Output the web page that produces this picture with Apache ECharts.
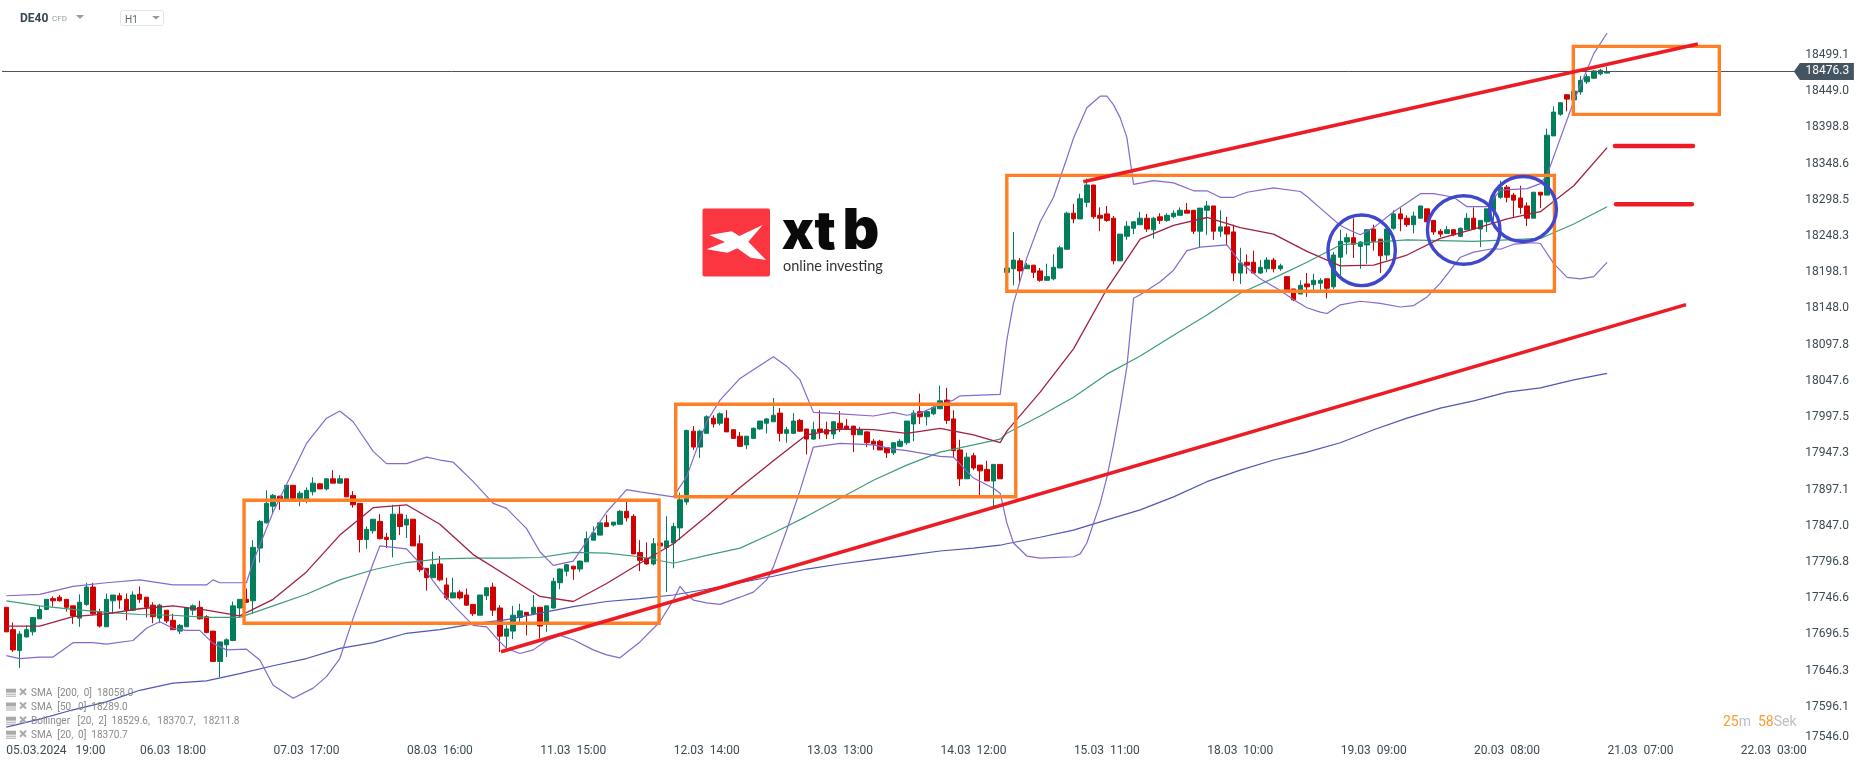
<!DOCTYPE html>
<html><head><meta charset="utf-8"><style>html,body{margin:0;padding:0;background:#fff}#c{width:1866px;height:767px}</style>
<script src="https://cdn.jsdelivr.net/npm/echarts@6/dist/echarts.min.js"></script></head><body><div id="c"></div><script>
const opens=[17734,17703,17674,17693,17700,17718,17731,17746,17748,17745,
17736,17719,17738,17762,17728,17707,17743,17750,17745,17730,
17752,17748,17737,17719,17730,17716,17701,17707,17730,17734,
17721,17701,17659,17682,17688,17733,17745,17743,17816,17851,
17874,17888,17884,17903,17885,17884,17894,17905,17898,17912,
17906,17912,17889,17878,17828,17840,17853,17831,17828,17863,
17848,17856,17822,17788,17775,17794,17765,17747,17755,17751,
17738,17723,17750,17762,17733,17694,17701,17720,17727,17725,
17734,17711,17733,17768,17784,17791,17787,17797,17827,17834,
17851,17848,17849,17867,17860,17810,17802,17794,17823,17817,
17823,17844,17880,17978,17956,17975,17996,17989,17996,17980,
17971,17959,17968,17981,17989,17991,18003,17975,17975,17993,
17981,17967,17981,17980,17974,17989,17985,17985,17973,17977,
17964,17964,17955,17948,17957,17962,17988,18005,17998,18002,
18009,18021,17995,17952,17912,17944,17931,17925,17909,17932,
18198,18203,18214,18203,18208,18200,18187,18189,18204,18230,
18280,18272,18295,18319,18277,18279,18273,18214,18248,18259,
18264,18273,18257,18275,18270,18275,18277,18284,18284,18255,
18284,18290,18255,18261,18254,18197,18212,18212,18197,18203,
18215,18203,18192,18175,18168,18182,18181,18183,18189,18178,
18219,18240,18246,18234,18236,18258,18244,18222,18259,18279,
18273,18264,18273,18286,18270,18255,18252,18257,18248,18257,
18273,18258,18268,18284,18302,18316,18305,18301,18290,18273,
18309,18305,18387,18417,18444,18437,18448,18462,18467,18473,18474];
const closes=[17700,17675,17697,17703,17720,17731,17745,17743,17743,17734,
17722,17741,17762,17725,17708,17745,17751,17744,17730,17751,
17745,17734,17721,17737,17715,17703,17709,17733,17736,17718,
17699,17659,17686,17689,17736,17745,17741,17817,17853,17878,
17889,17884,17903,17885,17892,17896,17906,17898,17912,17906,
17912,17887,17876,17828,17842,17856,17829,17828,17863,17846,
17856,17819,17786,17775,17793,17772,17747,17754,17747,17737,
17725,17751,17761,17730,17694,17704,17723,17729,17723,17734,
17708,17736,17770,17787,17793,17787,17798,17829,17837,17851,
17846,17852,17867,17858,17808,17799,17794,17822,17819,17826,
17846,17883,17979,17956,17978,17998,17988,18002,17977,17968,
17957,17971,17982,17992,17995,18000,17975,17980,17992,17978,
17967,17980,17977,17974,17991,17982,17981,17973,17980,17962,
17960,17952,17948,17962,17964,17992,18003,17998,18005,18011,
18020,17993,17951,17912,17942,17927,17923,17909,17932,17912,
18204,18215,18200,18208,18198,18187,18192,18205,18232,18280,
18272,18300,18319,18275,18273,18270,18214,18251,18262,18268,
18273,18258,18273,18270,18277,18280,18284,18280,18255,18287,
18290,18255,18261,18251,18197,18211,18208,18197,18205,18215,
18203,18207,18174,18160,18180,18178,18187,18187,18176,18222,
18241,18246,18237,18240,18257,18241,18221,18258,18279,18272,
18264,18276,18290,18268,18254,18251,18257,18250,18259,18273,
18258,18270,18286,18305,18316,18302,18298,18288,18273,18309,
18305,18388,18420,18433,18438,18449,18464,18469,18477,18478,18476.3];
const highs=[17734,17713,17701,17709,17720,17736,17745,17749,17751,17745,
17736,17752,17768,17768,17732,17753,17751,17754,17753,17756,
17763,17748,17741,17739,17730,17725,17711,17733,17738,17743,
17723,17701,17686,17691,17742,17745,17760,17827,17855,17896,
17891,17888,17904,17903,17895,17900,17914,17906,17913,17924,
17917,17912,17895,17878,17846,17856,17863,17837,17876,17874,
17862,17856,17834,17788,17811,17805,17775,17775,17758,17760,
17738,17751,17762,17768,17737,17709,17736,17739,17727,17751,
17734,17736,17775,17788,17794,17791,17799,17839,17846,17851,
17862,17852,17869,17880,17863,17827,17824,17830,17823,17860,
17851,17893,17980,17985,17980,18000,18000,18004,18007,17980,
17977,17971,17983,17992,17996,18024,18010,17984,18003,17995,
17981,17991,18007,17991,17992,18006,17995,17985,17984,17978,
17967,17966,17955,17962,17967,17992,18007,18030,18007,18013,
18041,18038,18007,17966,17948,17948,17931,17937,17932,17932,
18204,18254,18218,18211,18208,18204,18210,18223,18235,18282,
18293,18307,18328,18319,18288,18290,18276,18251,18269,18269,
18282,18279,18275,18280,18280,18284,18288,18294,18284,18287,
18297,18290,18284,18275,18264,18232,18223,18228,18215,18219,
18218,18210,18192,18175,18187,18197,18196,18190,18189,18226,
18257,18252,18273,18241,18258,18264,18244,18261,18284,18287,
18277,18282,18290,18286,18270,18258,18262,18258,18260,18280,
18288,18270,18286,18305,18325,18319,18308,18318,18295,18309,
18309,18397,18428,18433,18445,18449,18470,18473,18478,18480,18483];
const lows=[17700,17672,17650,17692,17695,17718,17730,17735,17742,17728,
17711,17707,17736,17723,17706,17707,17725,17732,17716,17729,
17740,17720,17712,17712,17712,17703,17697,17707,17723,17717,
17698,17658,17637,17665,17688,17721,17740,17725,17796,17850,
17864,17869,17884,17884,17874,17878,17889,17898,17896,17906,
17906,17887,17872,17810,17815,17836,17828,17816,17803,17834,
17830,17819,17783,17757,17775,17770,17744,17747,17745,17736,
17722,17723,17744,17722,17672,17677,17690,17712,17695,17723,
17691,17700,17732,17759,17777,17772,17783,17797,17827,17834,
17846,17846,17849,17853,17808,17784,17793,17792,17819,17755,
17788,17827,17876,17952,17941,17975,17983,17986,17977,17968,
17956,17953,17968,17980,17975,17991,17964,17962,17974,17977,
17946,17966,17967,17967,17967,17977,17980,17949,17973,17956,
17952,17952,17941,17945,17957,17959,17964,17988,17986,18000,
18009,17988,17942,17902,17912,17924,17888,17909,17874,17912,
18198,18180,18182,18203,18190,18185,18186,18187,18204,18230,
18266,18272,18288,18272,18255,18268,18209,18214,18243,18251,
18264,18254,18245,18265,18268,18273,18277,18280,18251,18232,
18250,18243,18247,18236,18186,18182,18196,18197,18196,18198,
18198,18200,18174,18158,18168,18164,18174,18174,18162,18175,
18194,18223,18218,18203,18210,18228,18197,18215,18257,18255,
18261,18252,18273,18268,18250,18247,18252,18248,18247,18257,
18257,18233,18254,18270,18300,18295,18275,18279,18262,18273,
18287,18305,18387,18415,18421,18437,18444,18459,18466,18471,18474];

const smaBars=[0,5,10,15,20,25,30,35,40,45,50,55,60,65,70,75,80,85,90,95,100,105,110,115,120,125,130,135,140,145,149,150,155,160,165,170,175,180,185,190,195,200,205,210,215,220,225,230,235,240];
const sma20=[17708,17708,17721,17725,17732,17736,17730,17722,17745,17783,17834,17872,17876,17849,17807,17778,17749,17742,17767,17795,17822,17860,17900,17937,17973,17981,17980,17975,17982,17973,17962,17978,18032,18092,18175,18244,18263,18274,18260,18251,18227,18207,18208,18222,18245,18258,18272,18282,18318,18370.7];
const sma50=[17743,17736,17731,17727,17724,17723,17720,17720,17736,17752,17772,17786,17796,17801,17802,17802,17803,17810,17809,17804,17795,17806,17816,17837,17860,17885,17910,17931,17949,17959,17967,17975,17999,18025,18057,18082,18111,18139,18169,18190,18212,18236,18240,18243,18242,18241,18243,18245,18265,18289];
const sma200=[17568,17579,17592,17603,17619,17629,17632,17642,17653,17663,17677,17685,17698,17703,17711,17717,17726,17735,17742,17746,17751,17759,17768,17777,17787,17794,17800,17806,17812,17816,17820,17822,17831,17841,17855,17869,17887,17908,17924,17938,17949,17962,17980,17996,18010,18020,18032,18038,18049,18058];

const upperBars=[0,5,10,15,20,25,30,31,32,36,37,40,45,48,50,52,55,57,60,63,65,67,70,73,75,78,80,82,85,90,93,95,100,102,105,107,110,112,115,117,119,121,125,130,133,135,137,140,142,143,146,149,150,151,153,155,157,159,160,162,164,165,166,167,168,169,172,175,178,180,182,184,186,190,194,195,197,200,202,203,205,208,212,214,217,219,222,224,228,230,231,235,238,240];
const upperBand=[17750,17752,17763,17768,17772,17765,17765,17772,17768,17768,17797,17866,17961,17996,18006,17991,17950,17933,17933,17942,17938,17935,17908,17878,17871,17843,17811,17792,17798,17866,17897,17894,17887,17915,17991,18021,18051,18063,18081,18068,18049,18004,18002,17999,18004,18000,18003,18015,18021,18027,18028,18029,18104,18155,18218,18268,18302,18356,18384,18426,18442,18442,18430,18412,18385,18320,18325,18322,18311,18311,18302,18302,18309,18315,18310,18303,18287,18263,18254,18250,18260,18282,18307,18307,18302,18289,18289,18312,18314,18321,18333,18435,18501,18529.6];
const lowerBars=[0,2,5,7,10,13,15,19,21,23,25,27,29,31,33,36,38,40,43,46,48,50,52,55,56,60,62,65,67,70,72,74,75,77,79,81,83,85,88,90,92,95,98,100,101,102,103,105,107,110,112,114,115,117,119,121,125,130,133,135,140,142,145,148,149,150,151,153,155,160,161,162,164,165,166,167,168,169,170,173,175,177,179,183,185,188,191,193,195,197,198,200,203,206,209,211,213,215,218,220,223,224,226,229,230,232,234,236,238,240];
const lowerBand=[17667,17663,17665,17665,17685,17685,17683,17688,17705,17714,17705,17702,17702,17684,17675,17676,17661,17626,17608,17622,17638,17663,17719,17795,17819,17815,17795,17758,17737,17709,17707,17686,17677,17670,17675,17688,17695,17689,17675,17668,17664,17686,17714,17744,17763,17752,17744,17740,17738,17748,17755,17772,17790,17841,17896,17956,17961,17959,17953,17951,17943,17942,17913,17899,17892,17851,17823,17805,17802,17804,17808,17823,17878,17914,17959,18010,18067,18162,18167,18185,18201,18228,18233,18236,18212,18189,18173,18160,18149,18143,18141,18153,18158,18155,18150,18152,18164,18183,18219,18226,18231,18230,18237,18239,18238,18210,18191,18189,18192,18211.8];

const yTicks=[17546.0,17596.1,17646.3,17696.5,17746.6,17796.8,17847.0,17897.1,17947.3,17997.5,18047.6,18097.8,18148.0,18198.1,18248.3,18298.5,18348.6,18398.8,18449.0,18499.1];
const currentPrice=18476.3;
const xTickLabels=["05.03.2024   19:00","06.03  18:00","07.03  17:00","08.03  16:00","11.03  15:00","12.03  14:00","13.03  13:00","14.03  12:00","15.03  11:00","18.03  10:00","19.03  09:00","20.03  08:00","21.03  07:00","22.03  03:00"];
const legendRows=["SMA  [200,  0]  18058.0","SMA  [50,  0]  18289.0","Bollinger   [20,  2]  18529.6,   18370.7,   18211.8","SMA  [20,  0]  18370.7"];

// annotations, in bar number / price
const boxes=[[35.64,97.86,17882.2,17711.8],[100.36,151.34,18015.2,17887.2],[150,232.1,18332.4,18171.9],[234.93,256.82,18511.1,18416.9]];
const trendLines=[[74.17,17672.4,251.83,18153.3],[161.47,18323.6,253.6,18514.3]];
const levelLines=[[241.19,18373,252.87,18373],[241.34,18292.3,252.7,18292.3]];
const circles=[[203.2,18228.5,5.05,48.9],[218.5,18256.7,5.44,47.5],[227.4,18285.7,5.0,45]];

const totalBars=269;
const categories=[];
for(let i=0;i<totalBars;i++)categories.push('');
categories[0]=xTickLabels[0];
for(let k=1;k<xTickLabels.length;k++)categories[5+20*k]=xTickLabels[k];

const candleData=opens.map((o,i)=>[o,closes[i],lows[i],highs[i]]);
const pair=(b,v)=>b.map((x,i)=>[x,v[i]]);
const ORANGE='#ff7f27',RED='#ed1c24',BLUE='#3f48cc',BAND='#8668cc';
function lineSeries(data,color,width,opts){
  return Object.assign({type:'line',xAxisIndex:1,yAxisIndex:0,data,symbol:'none',silent:true,animation:false,
    lineStyle:{color,width,opacity:1}},opts||{});
}
const series=[{
  type:'candlestick',xAxisIndex:0,yAxisIndex:0,data:candleData,barWidth:5,animation:false,silent:true,
  itemStyle:{color:'#007f5a',color0:'#cf0000',borderColor:'#007f5a',borderColor0:'#cf0000',borderWidth:1},
  markLine:{silent:true,symbol:'none',animation:false,data:[{yAxis:currentPrice}],label:{show:false},lineStyle:{color:'#46555f',width:1,type:'solid'}},
  markPoint:{silent:true,animation:false,z:20,data:[{coord:[totalBars-1,currentPrice],value:currentPrice.toFixed(1)}],
    symbol:'path://M0 8.5 L6 0 L60 0 L60 17 L6 17 Z',symbolSize:[60,17],symbolOffset:[30,0],itemStyle:{color:'#445561'},
    label:{show:true,position:'inside',offset:[3.5,0],color:'#fff',fontFamily:'Roboto',fontSize:12,formatter:p=>p.value}}
},
lineSeries([[-1,currentPrice],[0,currentPrice]],'#46555f',1,{clip:false}),
lineSeries(pair(smaBars,sma200),'#4f56b3',1.2),
lineSeries(pair(smaBars,sma50),'#3d9c7d',1.2),
lineSeries(pair(smaBars,sma20),'#a1203f',1.3),
lineSeries(pair(upperBars,upperBand),BAND,1.2),
lineSeries(pair(lowerBars,lowerBand),BAND,1.2)];
boxes.forEach(b=>series.push(lineSeries([[b[0],b[2]],[b[1],b[2]],[b[1],b[3]],[b[0],b[3]],[b[0],b[2]]],ORANGE,3.4,{z:5,lineStyle:{color:ORANGE,width:3.4,join:'miter',cap:'square'}})));
trendLines.forEach(t=>series.push(lineSeries([[t[0],t[1]],[t[2],t[3]]],RED,3.6,{z:6})));
levelLines.forEach(t=>series.push(lineSeries([[t[0],t[1]],[t[2],t[3]]],RED,4.6,{z:6,lineStyle:{color:RED,width:4.6,cap:'round'}})));
series.push({type:'custom',xAxisIndex:1,yAxisIndex:0,data:circles,z:6,silent:true,animation:false,clip:false,
  encode:{x:0,y:1},
  renderItem:(params,api)=>{
    const c=api.coord([api.value(0),api.value(1)]);
    const e=api.coord([api.value(0)+api.value(2),api.value(1)+api.value(3)]);
    return {type:'ellipse',shape:{cx:c[0],cy:c[1],rx:Math.abs(e[0]-c[0]),ry:Math.abs(e[1]-c[1])},style:{fill:'transparent',stroke:BLUE,lineWidth:3.4}};
  }});

// decoration: header, indicator legend, logo, countdown
const gfx=[];
const txt=(x,y,text,fontSize,color,extra)=>({type:'text',z:30,silent:true,x,y,style:Object.assign({text,fontFamily:'Roboto',fontSize,fill:color,verticalAlign:'middle',textAlign:'left'},extra||{})});
const tri=(x1,x2,y1,y2,fill)=>({type:'polygon',z:30,silent:true,shape:{points:[[x1,y1],[x2,y1],[(x1+x2)/2,y2]]},style:{fill}});
gfx.push(txt(20,19,'DE40',12,'#37474f',{fontWeight:'bold'}));
gfx.push(txt(52,19,'CFD',8,'#8f9ca3'));
gfx.push(tri(76,84,15,19,'#9a9a9a'));
gfx.push({type:'rect',z:30,silent:true,shape:{x:120.5,y:10.5,width:43,height:15,r:2},style:{fill:'#fff',stroke:'#e2e5e7',lineWidth:1}});
gfx.push(txt(125,20,'H1',10,'#5b6a72'));
gfx.push(tri(152,160,16,19.5,'#9a9a9a'));
const rowY=[693.7,707.5,721.7,735.7];
legendRows.forEach((r,i)=>{
  const y=rowY[i];
  gfx.push({type:'rect',z:30,silent:true,shape:{x:6,y:y-5,width:10,height:4},style:{fill:'#a9a9a9'}});
  gfx.push({type:'rect',z:30,silent:true,shape:{x:6,y:y,width:10,height:1},style:{fill:'#a9a9a9'}});
  gfx.push({type:'rect',z:30,silent:true,shape:{x:6,y:y+2,width:10,height:1},style:{fill:'#a9a9a9'}});
  gfx.push({type:'line',z:30,silent:true,shape:{x1:20,y1:y-5,x2:26,y2:y+1},style:{stroke:'#a9a9a9',lineWidth:2}});
  gfx.push({type:'line',z:30,silent:true,shape:{x1:26,y1:y-5,x2:20,y2:y+1},style:{stroke:'#a9a9a9',lineWidth:2}});
  gfx.push(txt(31,y,r,10,'#8a8a8a'));
});
gfx.push({type:'rect',z:25,silent:true,shape:{x:702.5,y:208.5,width:67.5,height:68,r:2},style:{fill:'#fb3641'}});
const lp=[[88,135],[155,124],[178,138],[248,105],[205,155],[258,210],[212,203],[172,175],[142,188],[80,178],[135,156]].map(p=>[680+p[0]/3,190+p[1]/3]);
gfx.push({type:'polygon',z:26,silent:true,shape:{points:lp},style:{fill:'#fff'}});
[['x',798,53],['t',825,53],['b',861,57]].forEach(a=>gfx.push({type:'text',z:26,silent:true,x:a[1],y:260,style:{text:a[0],fontFamily:'Inter',fontWeight:900,fontSize:a[2],fill:'#0a0a0a',textAlign:'center',verticalAlign:'bottom',lineHeight:a[2]}}));
gfx.push({type:'text',z:26,silent:true,x:783,y:266,style:{text:'online investing',fontFamily:'Lato',fontSize:14.5,fill:'#333',textAlign:'left',verticalAlign:'middle'}});
gfx.push({type:'text',z:30,silent:true,x:1723,y:722.5,style:{
  text:'{o|25}{g|m}  {o|58}{g|Sek}',verticalAlign:'middle',textAlign:'left',
  rich:{o:{fontFamily:'Roboto',fontSize:14,fill:'#ff9a2e',color:'#ff9a2e'},g:{fontFamily:'Roboto',fontSize:14,fill:'#bdbdbd',color:'#bdbdbd'}},fontFamily:'Roboto',fontSize:14}});

const option={
  backgroundColor:'#fff',animation:false,
  textStyle:{fontFamily:'Roboto'},
  grid:{left:3,right:68.8,top:0,bottom:24,containLabel:false},
  xAxis:[{type:'category',data:categories,boundaryGap:true,axisLine:{show:false},axisTick:{show:false},splitLine:{show:false},
    axisLabel:{show:true,interval:(i,v)=>v!=='',margin:2,color:'#3c4a52',fontFamily:'Roboto',fontSize:12,alignMinLabel:'left',hideOverlap:false}},
   {type:'value',min:-0.5,max:totalBars-0.5,show:false,splitLine:{show:false}}],
  yAxis:[{type:'value',position:'right',min:17546.0,max:18575.3,scale:true,axisLine:{show:false},axisTick:{show:false},splitLine:{show:false},
    axisLabel:{show:true,customValues:yTicks,formatter:v=>v.toFixed(1),align:'right',margin:51.8,padding:[2,0,0,0],color:'#3c4a52',fontFamily:'Roboto',fontSize:12,verticalAlignMinLabel:'bottom'}}],
  series,graphic:{elements:gfx}
};
const chart=echarts.init(document.getElementById('c'),null,{renderer:'canvas'});
chart.setOption(option);
</script></body></html>
